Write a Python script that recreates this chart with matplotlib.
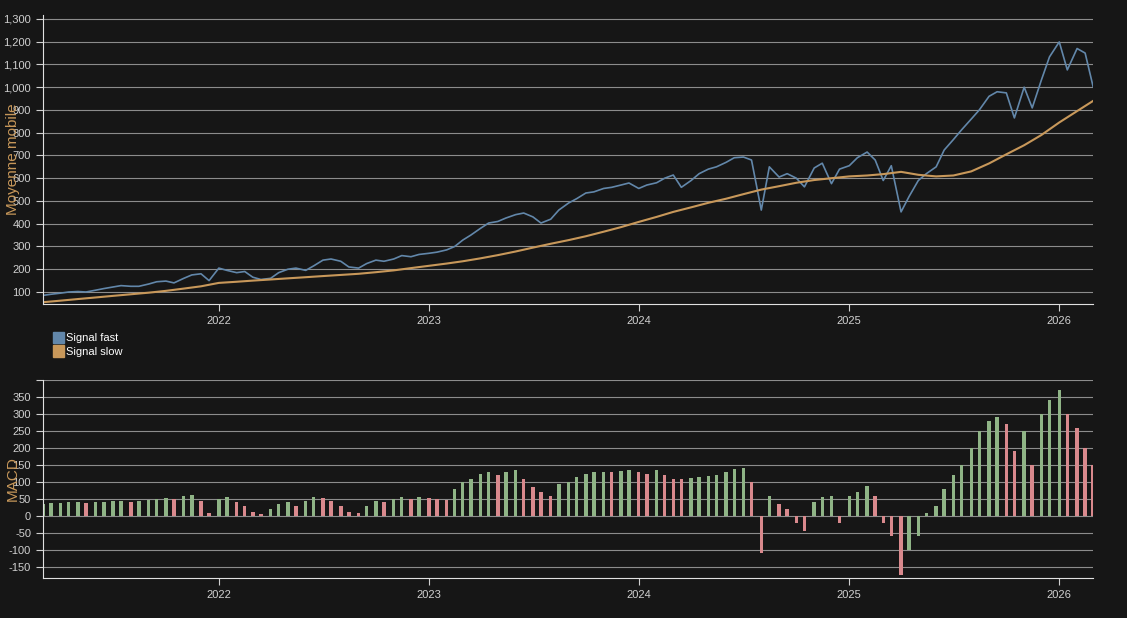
import matplotlib
matplotlib.use("Agg")
import matplotlib.pyplot as plt
import matplotlib.dates as mdates
from matplotlib.patches import Patch
from matplotlib.ticker import FuncFormatter, MultipleLocator
import numpy as np
import pandas as pd

# semi-monthly samples, 2021-03-01 .. 2026-03-01
dates = pd.date_range("2021-03-01", "2026-03-01", freq="SMS")

signal_fast = [
    85, 90, 95, 100, 102, 100, 108, 115, 122, 128, 125, 125, 135, 145, 148, 140, 160, 175, 180, 150,
    205, 195, 185, 190, 165, 155, 160, 185, 200, 205, 195, 215, 240, 245, 235, 210, 205, 225, 240, 235, 245, 260, 255, 265,
    270, 275, 285, 300, 328, 350, 380, 403, 410, 425, 440, 447, 430, 403, 420, 460, 491, 510, 535, 540, 555, 560, 570, 579,
    555, 570, 580, 600, 614, 560, 590, 620, 640, 650, 670, 690, 693, 680, 460, 650, 605, 620, 600, 562, 645, 666, 576, 640,
    655, 690, 715, 680, 590, 655, 452, 520, 590, 620, 650, 724, 770, 812, 860, 900, 960, 980, 975, 865, 1000, 909, 1032, 1133,
    1199, 1076, 1170, 1150, 1001,
]

# monthly samples, 2021-03 .. 2026-03
slow_dates = pd.date_range("2021-03-01", "2026-03-01", freq="MS")
signal_slow = [
    55, 62, 69, 76, 83, 90, 97, 105, 115, 125,
    140, 145, 150, 155, 160, 165, 170, 175, 180, 187, 195, 205,
    215, 225, 235, 248, 262, 278, 295, 312, 328, 345, 365, 385,
    408, 430, 452, 472, 492, 510, 530, 550, 565, 580, 592, 600,
    608, 612, 618, 628, 615, 608, 612, 630, 665, 705, 745, 790,
    845, 895, 940,
]

macd = [
    35, 38, 38, 40, 40, 38, 40, 42, 45, 45, 42, 45, 48, 50, 52, 50, 58, 62, 45, 8,
    50, 55, 40, 30, 12, 5, 20, 35, 40, 30, 45, 55, 52, 45, 30, 12, 10, 30, 45, 40, 50, 55, 50, 55,
    52, 50, 48, 80, 100, 110, 125, 130, 120, 128, 135, 110, 85, 70, 60, 95, 100, 115, 125, 130, 130, 128, 132, 135,
    130, 125, 135, 120, 110, 108, 112, 115, 118, 120, 130, 138, 142, 100, -110, 60, 35, 20, -20, -45, 40, 55, 60, -20,
    60, 70, 88, 60, -20, -60, -175, -100, -60, 10, 30, 80, 120, 150, 200, 250, 280, 290, 270, 190, 250, 150, 300, 340,
    370, 300, 260, 200, 150,
]

BG = "#161616"
FAST = "#6287aa"
SLOW = "#c8985a"
GREEN = "#8fb486"
PINK = "#d9898d"
GRID = "#8c8c8c"
TXT = "#d0d0d0"

plt.rcParams["font.family"] = ["Liberation Sans", "DejaVu Sans"]

fig = plt.figure(figsize=(11.27, 6.18), dpi=100)
fig.patch.set_facecolor(BG)
ax1 = fig.add_axes([0.038, 0.508, 0.932, 0.468])
ax2 = fig.add_axes([0.038, 0.065, 0.932, 0.320])

for ax in (ax1, ax2):
    ax.set_facecolor(BG)
    for s in ("top", "right"):
        ax.spines[s].set_visible(False)
    for s in ("left", "bottom"):
        ax.spines[s].set_color("#e0e0e0")
    ax.tick_params(colors=TXT, labelsize=8, length=5)
    ax.grid(axis="y", color=GRID, linewidth=0.8)
    ax.set_axisbelow(True)
    ax.set_xlim(pd.Timestamp("2021-03-01"), pd.Timestamp("2026-03-01"))
    ax.xaxis.set_major_locator(mdates.YearLocator())
    ax.xaxis.set_major_formatter(mdates.DateFormatter("%Y"))

ax1.plot(dates, signal_fast, color=FAST, linewidth=1.2)
ax1.plot(slow_dates, signal_slow, color=SLOW, linewidth=1.5)
ax1.set_ylim(47, 1318)
ax1.yaxis.set_major_locator(MultipleLocator(100))
ax1.yaxis.set_major_formatter(FuncFormatter(lambda v, p: f"{int(v):,}" if v >= 100 else ""))
ax1.set_ylabel("Moyenne mobile", color=SLOW, fontsize=11)
ax1.yaxis.set_label_coords(-0.022, 0.5)

leg = ax1.legend(
    handles=[Patch(color=FAST, label="Signal fast"), Patch(color=SLOW, label="Signal slow")],
    loc="upper left", bbox_to_anchor=(0.005, -0.08), frameon=False,
    fontsize=8, handlelength=1.0, handleheight=1.2, handletextpad=0.2, labelspacing=0.2,
    borderaxespad=0,
)
for t in leg.get_texts():
    t.set_color("white")

vals = np.array(macd, dtype=float)
colors = [GREEN if i == 0 or vals[i] >= vals[i - 1] else PINK for i in range(len(vals))]
ax2.bar(dates, vals, width=6, color=colors, linewidth=0)
ax2.set_ylim(-182, 400)
ax2.yaxis.set_major_locator(MultipleLocator(50))
ax2.yaxis.set_major_formatter(FuncFormatter(lambda v, p: f"{int(v)}" if -150 <= v <= 350 else ""))
ax2.set_ylabel("MACD", color=SLOW, fontsize=11)
ax2.yaxis.set_label_coords(-0.022, 0.5)

fig.savefig("out.png", dpi=100, facecolor=BG)
